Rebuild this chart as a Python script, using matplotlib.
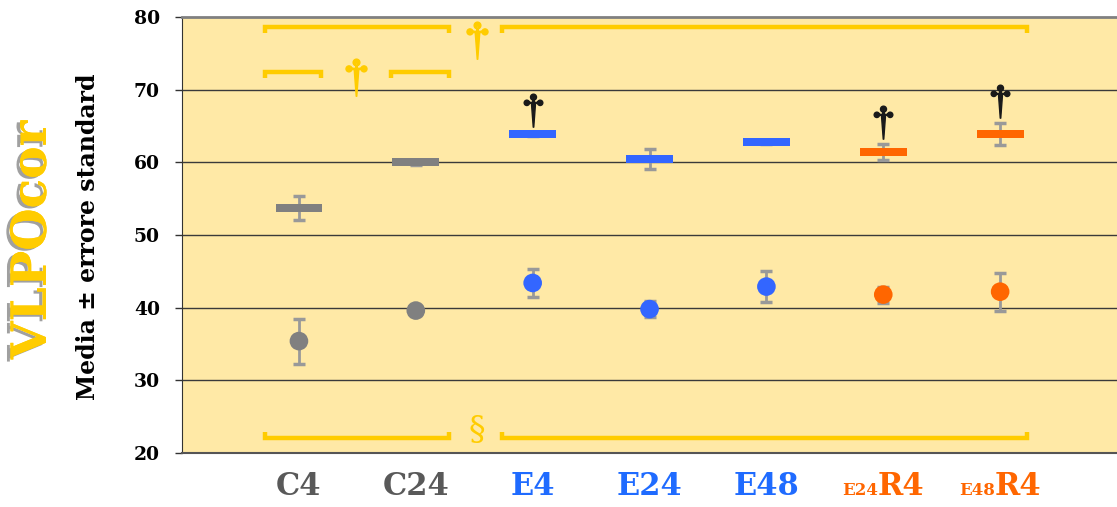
import numpy as np
import matplotlib
matplotlib.use("Agg")
import matplotlib.pyplot as plt
import matplotlib.patheffects as pe
from matplotlib.path import Path

# Dati (media ± errore standard)
gruppi = ["C4", "C24", "E4", "E24", "E48", "E24R4", "E48R4"]
media_barra = [53.7, 60.0, 63.9, 60.5, 62.8, 61.4, 63.9]
errore_barra = [1.7, 0.3, 0.3, 1.4, 0.3, 1.1, 1.5]
media_punto = [35.4, 39.6, 43.4, 39.8, 42.9, 41.8, 42.2]
errore_punto = [3.1, 0.6, 1.9, 1.1, 2.1, 1.1, 2.6]
colori = ["#808080", "#808080", "#3366FF", "#3366FF", "#3366FF", "#FF6600", "#FF6600"]
colori_etichette = ["#595959", "#595959", "#1F6BFF", "#1F6BFF", "#1F6BFF", "#FF6600", "#FF6600"]
# gruppi con differenza significativa (pugnale nero)
significativi = ["E4", "E24R4", "E48R4"]

GIALLO = "#FFCC00"
FONT = "DejaVu Serif"

# Simbolo a pugnale (croce con lobi e lama) come marker
def pugnale():
    parti = [
        Path.circle((0, 0.80), 0.18),
        Path.circle((-0.40, 0.46), 0.16),
        Path.circle((0.40, 0.46), 0.16),
        Path([(-0.40, 0.43), (0.40, 0.43), (0.40, 0.49), (-0.40, 0.49), (-0.40, 0.43)],
             [Path.MOVETO, Path.LINETO, Path.LINETO, Path.LINETO, Path.CLOSEPOLY]),
        Path([(-0.04, 0.8), (0.04, 0.8), (0.04, 0.4), (-0.04, 0.4), (-0.04, 0.8)],
             [Path.MOVETO, Path.LINETO, Path.LINETO, Path.LINETO, Path.CLOSEPOLY]),
        Path([(-0.12, 0.40), (0.12, 0.40), (0.015, -1.0), (-0.015, -1.0), (-0.12, 0.40)],
             [Path.MOVETO, Path.LINETO, Path.LINETO, Path.LINETO, Path.CLOSEPOLY]),
    ]
    return Path.make_compound_path(*parti)

marker_pugnale = pugnale()

fig = plt.figure(figsize=(11.17, 5.07), dpi=100)
ax = fig.add_axes([0.163, 0.1065, 0.837, 0.86])
ax.set_facecolor("#FFE9A6")

x = np.arange(len(gruppi))

# Linee della griglia
for v in [30, 40, 50, 60, 70]:
    ax.axhline(v, color="#3a3a3a", linewidth=1.0, zorder=1)

# Barre (trattini orizzontali)
ax.errorbar(x, media_barra, yerr=errore_barra, fmt="none", ecolor="#999999",
            elinewidth=2, capsize=4.5, capthick=2.5, zorder=2)
ax.bar(x, [1.1] * len(x), bottom=np.array(media_barra) - 0.55, width=0.4,
       color=colori, zorder=3)

# Punti
ax.errorbar(x, media_punto, yerr=errore_punto, fmt="none", ecolor="#999999",
            elinewidth=2, capsize=4.5, capthick=2.5, zorder=2)
ax.scatter(x, media_punto, s=180, c=colori, zorder=4, linewidths=0)

# Pugnali neri sopra i gruppi significativi
for g in significativi:
    i = gruppi.index(g)
    ax.plot(i, media_barra[i] + errore_barra[i] + 3.0, marker=marker_pugnale,
            markersize=24, color="#1a1a1a", linestyle="none", zorder=5)

# Parentesi gialle
def parentesi(x0, x1, y, su=True):
    d = -0.8 if su else 0.8
    ax.plot([x0, x0, x1, x1], [y + d, y, y, y + d], color=GIALLO, linewidth=3.2,
            solid_joinstyle="miter", solid_capstyle="butt", zorder=3)

parentesi(0 - 0.29, 1 + 0.28, 78.6)
parentesi(2 - 0.26, 6 + 0.23, 78.6)
parentesi(0 - 0.29, 0 + 0.19, 72.4)
parentesi(1 - 0.21, 1 + 0.28, 72.4)
parentesi(0 - 0.29, 1 + 0.28, 22.1, su=False)
parentesi(2 - 0.26, 6 + 0.23, 22.1, su=False)

ax.plot(0.49, 71.8, marker=marker_pugnale, markersize=27, color=GIALLO, linestyle="none", zorder=5)
ax.plot(1.52, 76.8, marker=marker_pugnale, markersize=27, color=GIALLO, linestyle="none", zorder=5)
ax.text(1.52, 23.0, "§", color=GIALLO, fontsize=24, family=FONT, ha="center", va="center", zorder=5)

# Assi
ax.set_xlim(-1, 7)
ax.set_ylim(20, 80)
ax.set_yticks([20, 30, 40, 50, 60, 70, 80])
ax.tick_params(axis="y", direction="out", length=5, width=1, color="#333333", pad=11)
for lab in ax.get_yticklabels():
    lab.set_fontfamily(FONT)
    lab.set_fontweight("bold")
    lab.set_fontsize(13.5)
ax.set_xticks([])
ax.spines["right"].set_visible(False)
ax.spines["top"].set_color("#808080")
ax.spines["top"].set_linewidth(2)
ax.spines["bottom"].set_color("#555555")
ax.spines["bottom"].set_linewidth(1.5)
ax.spines["left"].set_color("#333333")

# Etichette dei gruppi
for i, g in enumerate(gruppi):
    c = colori_etichette[i]
    if "R" in g:
        pre, post = g.split("R")
        ax.annotate(pre, xy=(i, 0), xycoords=("data", "axes fraction"),
                    xytext=(-4, -30), textcoords="offset points", ha="right", va="baseline",
                    fontsize=12, fontweight="bold", family=FONT, color=c)
        ax.annotate("R" + post, xy=(i, 0), xycoords=("data", "axes fraction"),
                    xytext=(-4, -30), textcoords="offset points", ha="left", va="baseline",
                    fontsize=22, fontweight="bold", family=FONT, color=c)
    else:
        ax.annotate(g, xy=(i, 0), xycoords=("data", "axes fraction"),
                    xytext=(0, -30), textcoords="offset points", ha="center", va="baseline",
                    fontsize=22, fontweight="bold", family=FONT, color=c)

# Titoli asse y
fig.text(0.079, 0.534, "Media ± errore standard", rotation=90, ha="center", va="center",
         fontsize=17, fontweight="bold", family=FONT, color="black")
fig.text(0.029, 0.527, "VLPOcor", rotation=90, ha="center", va="center",
         fontsize=35, fontweight="bold", family=FONT, color=GIALLO,
         path_effects=[pe.withSimplePatchShadow(offset=(-2.5, -1.5), shadow_rgbFace="#A0A0A0", alpha=1),
                       pe.Normal()])

plt.savefig("out.png", dpi=100)
plt.close()
